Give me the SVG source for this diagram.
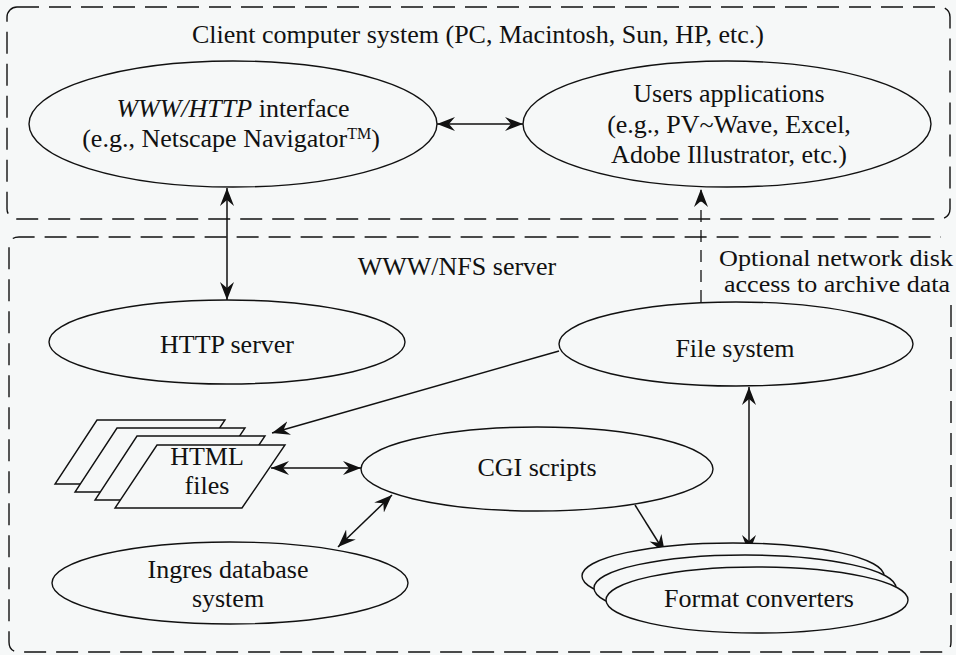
<svg xmlns="http://www.w3.org/2000/svg" width="956" height="655" viewBox="0 0 956 655">
<style>
  text { font-family: "Liberation Serif", "Times New Roman", serif; font-size: 26px; fill: #111; text-anchor: middle; }
  .small { font-size: 23px; }
  .node { fill: #f6f8f8; stroke: #111; stroke-width: 1.4; }
  .box { fill: none; stroke: #111; stroke-width: 1.4; stroke-dasharray: 22 10; }
  .conn { fill: none; stroke: #111; stroke-width: 1.5; }
  .dash { fill: none; stroke: #111; stroke-width: 1.3; stroke-dasharray: 12 8; }
</style>
<defs>
  <marker id="ah" viewBox="-18 -8 18 16" refX="0" refY="0" markerWidth="18" markerHeight="16" markerUnits="userSpaceOnUse" orient="auto-start-reverse">
    <path d="M0,0 L-18,-7 L-12,0 L-18,7 Z" fill="#111"/>
  </marker>
</defs>
<rect width="956" height="655" fill="#f6f8f8"/>

<g id="client-box">
  <rect class="box" x="7" y="7" width="943" height="212" rx="10"/>
  <text x="478" y="43">Client computer system (PC, Macintosh, Sun, HP, etc.)</text>
</g>
<g id="server-box">
  <path class="box" d="M951,305 L951,642 Q951,652 941,652 L19,652 Q9,652 9,642 L9,247 Q9,237 19,237 L941,237"/>
  <text x="457" y="275">WWW/NFS server</text>
</g>

<g id="connectors">
  <line class="conn" x1="437" y1="124" x2="523" y2="124" marker-start="url(#ah)" marker-end="url(#ah)"/>
  <line class="conn" x1="227" y1="188" x2="227" y2="300" marker-start="url(#ah)" marker-end="url(#ah)"/>
  <line class="dash" x1="701" y1="302" x2="701" y2="189" marker-end="url(#ah)"/>
  <line class="conn" x1="559" y1="351" x2="272" y2="433" marker-end="url(#ah)"/>
  <line class="conn" x1="271" y1="468" x2="361" y2="468" marker-start="url(#ah)" marker-end="url(#ah)"/>
  <line class="conn" x1="338" y1="547" x2="392" y2="495" marker-start="url(#ah)" marker-end="url(#ah)"/>
  <line class="conn" x1="635" y1="505" x2="665" y2="553" marker-end="url(#ah)"/>
  <line class="conn" x1="749" y1="387" x2="749" y2="553" marker-start="url(#ah)" marker-end="url(#ah)"/>
</g>

<g id="www-http-interface">
  <ellipse class="node" cx="233" cy="124" rx="204" ry="63"/>
  <text x="233" y="117"><tspan font-style="italic">WWW/HTTP</tspan> interface</text>
  <text x="231" y="147">(e.g., Netscape Navigator<tspan font-size="16" baseline-shift="super">TM</tspan>)</text>
</g>

<g id="users-applications">
  <ellipse class="node" cx="727" cy="124" rx="204" ry="63"/>
  <text x="729" y="102">Users applications</text>
  <text x="729" y="133">(e.g., PV~Wave, Excel,</text>
  <text x="729" y="163">Adobe Illustrator, etc.)</text>
</g>

<g id="optional-label">
  <text class="small" x="836" y="266" textLength="234" lengthAdjust="spacingAndGlyphs">Optional network disk</text>
  <text class="small" x="837" y="292" textLength="226" lengthAdjust="spacingAndGlyphs">access to archive data</text>
</g>

<g id="http-server">
  <ellipse class="node" cx="227" cy="342" rx="178" ry="42"/>
  <text x="227" y="353">HTTP server</text>
</g>

<g id="file-system">
  <ellipse class="node" cx="736" cy="344" rx="177" ry="42"/>
  <text x="735" y="357">File system</text>
</g>

<g id="html-files">
  <polygon class="node" points="97,420 225,420 182,484 55,484"/>
  <polygon class="node" points="117,428 245,428 202,492 75,492"/>
  <polygon class="node" points="137,436 265,436 222,500 95,500"/>
  <polygon class="node" points="157,445 285,445 242,508 115,508"/>
  <text x="207" y="465">HTML</text>
  <text x="207" y="494">files</text>
</g>

<g id="cgi-scripts">
  <ellipse class="node" cx="537" cy="469" rx="176" ry="42"/>
  <text x="537" y="476">CGI scripts</text>
</g>

<g id="ingres-database">
  <ellipse class="node" cx="230" cy="583" rx="178" ry="41"/>
  <text x="228" y="578">Ingres database</text>
  <text x="228" y="607">system</text>
</g>

<g id="format-converters">
  <ellipse class="node" cx="733" cy="576" rx="151" ry="33"/>
  <ellipse class="node" cx="745" cy="588" rx="151" ry="33"/>
  <ellipse class="node" cx="757" cy="600" rx="151" ry="33"/>
  <text x="759" y="607">Format converters</text>
</g>
</svg>
